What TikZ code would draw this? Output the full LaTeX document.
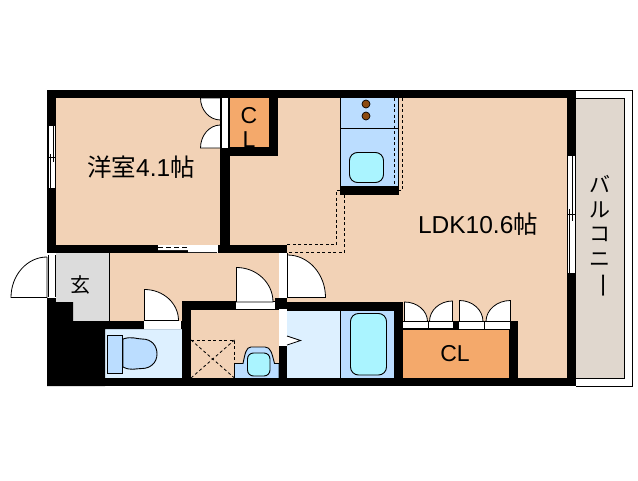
\documentclass[tikz,border=0pt]{standalone}
\usepackage{fontspec}
\usepackage{graphicx}
\setmainfont{Liberation Sans}
\newfontfamily\jpfont{Noto Sans CJK JP}
\definecolor{room}{HTML}{F2D2B6}
\definecolor{closet}{HTML}{F4A96B}
\definecolor{wetfloor}{HTML}{DDF0FF}
\definecolor{fixture}{HTML}{BBDDFF}
\definecolor{basin}{HTML}{AAF4FF}
\definecolor{entry}{HTML}{DCDCDC}
\definecolor{balcony}{HTML}{E0D7CE}
\definecolor{burner}{HTML}{8B4A10}
\tikzset{
	wall/.style={fill=black},
	leaf/.style={draw=black, fill=white, line width=.8pt},
	pane/.style={draw=black, line width=.9pt},
	thinline/.style={draw=black, line width=.9pt},
	hidden/.style={draw=black, line width=.8pt, dash pattern=on 3pt off 2.5pt},
	label/.style={font=\fontsize{23}{23}\selectfont, inner sep=0pt}
}
\begin{document}
\begin{tikzpicture}[x=1pt, y=-1pt]
	\useasboundingbox (0,0) rectangle (638,480);
	\fill[white] (0,0) rectangle (638,480);
	\fill[room] (56,98) rectangle (567,378);
	% balcony
	\draw[line width=.9pt] (576,90) -- (632,90) -- (632,386) -- (576,386);
	\draw[fill=balcony, line width=.9pt] (576,98) -- (624.5,98) -- (624.5,378) -- (576,378);
	% entry and closets
	\fill[entry] (56,253) -- (109,253) -- (109,321) -- (73,321) -- (73,302) -- (56,302) -- cycle;
	\draw[thinline] (109,253) -- (109,321);
	\fill[closet] (230,98) rectangle (269,147);
	\fill[closet] (403,330) rectangle (509,378);
	% toilet
	\fill[wetfloor] (105,329) rectangle (182,378);
	\draw[thinline, fill=fixture] (123,339) .. controls (132,336) and (136,339) .. (142,339) .. controls (152,339) and (157,346) .. (157,354) .. controls (157,363) and (150,368.5) .. (142,368.5) .. controls (135,368.5) and (131,371) .. (123,367) -- cycle;
	\draw[thinline, fill=fixture] (107.5,335) rectangle (122.5,373);
	% bath
	\fill[wetfloor] (287,310) rectangle (340,378);
	\fill[fixture] (340,310) rectangle (394,378);
	\draw[thinline] (340.5,310) -- (340.5,378);
	\draw[thinline, fill=basin, rounded corners=8pt] (350.5,313.5) rectangle (386.5,375);
	% kitchen
	\fill[fixture] (340,98) rectangle (399,186);
	\draw[thinline] (340.5,98) -- (340.5,186);
	\draw[thinline] (398.5,98) -- (398.5,186);
	\draw[thinline] (340,128.5) -- (399,128.5);
	\draw[fill=burner, line width=.7pt] (366,104) circle (4);
	\draw[fill=burner, line width=.7pt] (366,116) circle (4);
	\draw[thinline, fill=basin, rounded corners=8pt] (349.5,152.5) rectangle (383.5,182.5);
	\fill[wall] (340,186) rectangle (399,194.5);
	\draw[hidden] (394.5,98) -- (394.5,186);
	\draw[hidden] (402.5,98) -- (402.5,190) -- (399,190);
	\draw[hidden] (340,190) -- (336.5,190) -- (336.5,244.5) -- (287,244.5);
	\draw[hidden] (344.5,194.5) -- (344.5,252) -- (287,252);
	% wash room
	\draw[hidden] (191,340) -- (234.5,340) -- (234.5,378);
	\draw[hidden] (191,378) -- (234.5,340);
	\draw[hidden] (191,340) -- (234.5,378);
	\draw[thinline, fill=fixture] (234.5,378) -- (234.5,363.5) -- (243,363.5) .. controls (245,354) and (246,347) .. (251,347) -- (265,347) .. controls (271,347) and (272,354) .. (274.5,363.5) -- (279,363.5) -- (279,378);
	\draw[thinline, fill=basin, rounded corners=6pt] (247.5,353) rectangle (270,376);
	% walls
	\fill[wall] (47,90) rectangle (576,98);
	\fill[wall] (47,378) rectangle (576,386);
	\fill[wall] (47,90) rectangle (56,253);
	\fill[wall] (567,90) rectangle (576,386);
	\fill[wall] (220,90) rectangle (230,253);
	\fill[wall] (228,147) rectangle (278,156);
	\fill[wall] (269,90) rectangle (278,156);
	\fill[wall] (47,244.5) rectangle (287,253);
	\fill[wall] (47,298) rectangle (56,386);
	\fill[wall] (47,302) -- (73,302) -- (73,321) -- (182,321) -- (182,329) -- (105,329) -- (105,386) -- (47,386) -- cycle;
	\fill[wall] (182,301) rectangle (191,386);
	\fill[wall] (182,301) rectangle (287,310);
	\fill[wall] (279,298) rectangle (287,386);
	\fill[wall] (275,298) rectangle (287,310);
	\fill[wall] (287,302) rectangle (403,310.5);
	\fill[wall] (394,302) rectangle (403,378);
	\fill[wall] (403,321) rectangle (518,330);
	\fill[wall] (509,321) rectangle (518,378);
	% bedroom closet doors
	\fill[white] (221,98) rectangle (228,148);
	\draw[pane] (221,98) -- (221,148);
	\draw[pane] (228,98) -- (228,148);
	\draw[leaf] (220.5,98) -- (200.5,98) arc[start angle=180, end angle=90, x radius=20, y radius=22] -- cycle;
	\draw[leaf] (220.5,148) -- (200.5,148) arc[start angle=180, end angle=270, x radius=20, y radius=23] -- cycle;
	% windows
	\fill[white] (48,125.5) rectangle (55.5,187.5);
	\draw[pane] (48,125.5) -- (48,187.5);
	\draw[pane] (55.3,125.5) -- (55.3,187.5);
	\draw[pane] (50,154) -- (50,187.5);
	\draw[pane] (53,125.5) -- (53,162);
	\draw[pane] (48,157.5) -- (55.3,157.5);
	\fill[white] (567.5,155.5) rectangle (575.5,273);
	\draw[pane] (567.5,155.5) -- (567.5,273);
	\draw[pane] (575.3,155.5) -- (575.3,273);
	\draw[pane] (569.7,209) -- (569.7,273);
	\draw[pane] (572.7,155.5) -- (572.7,220.5);
	\draw[pane] (567.5,214) -- (575.3,214);
	% sliding door
	\fill[white] (158,245) -- (217,245) -- (217,252) -- (188,252) -- (188,250) -- (158,250) -- cycle;
	\draw[black, line width=1pt, dash pattern=on 5pt off 3pt] (158,247.5) -- (188,247.5);
	\draw[white, line width=1pt] (217,244.5) -- (217,253);
	% entrance door
	\fill[white] (48,255) rectangle (55,297);
	\draw[pane] (48,255) -- (48,297);
	\draw[pane] (55,255) -- (55,297);
	\draw[leaf] (47,257) -- (47,297.5) -- (11,297.5) arc[start angle=180, end angle=270, x radius=36, y radius=40.5];
	% toilet door
	\fill[white] (144,321) rectangle (181,328.5);
	\draw[leaf] (144.5,289.5) -- (144.5,320.5) -- (178.5,320.5) arc[start angle=0, end angle=-90, x radius=34, y radius=31] -- cycle;
	% wash room door
	\fill[white] (236,302) rectangle (275,309);
	\draw[leaf] (236.5,267.5) -- (236.5,302) -- (273,302) arc[start angle=0, end angle=-90, x radius=36.5, y radius=34.5] -- cycle;
	% living room door
	\fill[white] (279,253) rectangle (287,298);
	\draw[pane] (287,253) -- (287,298);
	\draw[leaf] (287.5,255) -- (287.5,297.5) -- (325.5,297.5) arc[start angle=0, end angle=-90, x radius=38, y radius=42.5] -- cycle;
	% bath door
	\fill[white] (279,308.5) rectangle (287,346);
	\draw[leaf] (287,336) -- (300.5,340.5) -- (287,345);
	% closet doors
	\fill[white] (403,321.5) rectangle (453,328);
	\fill[white] (459,321.5) rectangle (510,329);
	\draw[pane] (404,321.5) -- (453,321.5);
	\draw[pane] (459,321.5) -- (510,321.5);
	\draw[pane] (428.5,321.5) -- (428.5,328);
	\draw[pane] (484.5,321.5) -- (484.5,329);
	\draw[leaf] (404.5,302) -- (404.5,321.5) -- (427.5,321.5) arc[start angle=0, end angle=-90, x radius=23, y radius=19.5] -- cycle;
	\draw[leaf] (452.5,301) -- (452.5,321.5) -- (429.5,321.5) arc[start angle=180, end angle=270, x radius=23, y radius=20.5] -- cycle;
	\draw[leaf] (459.5,300.5) -- (459.5,321.5) -- (483,321.5) arc[start angle=0, end angle=-90, x radius=23.5, y radius=21] -- cycle;
	\draw[leaf] (510.5,300.5) -- (510.5,321.5) -- (486,321.5) arc[start angle=180, end angle=270, x radius=24.5, y radius=21] -- cycle;
	% labels
	\node[label, font=\jpfont\fontsize{24.5}{24.5}\selectfont] (bedroom) at (141,167) {洋室\fontspec{Liberation Sans}4.1\jpfont 帖};
	\node[label, font=\jpfont\fontsize{24.5}{24.5}\selectfont] (living) at (478,224) {\fontspec{Liberation Sans}LDK10.6\jpfont 帖};
	\node[label] (clup) at (249,116) {C};
	\node[label] (cllow) at (249,140) {L};
	\node[label] (cloth) at (455,354) {CL};
	\node[label, font=\jpfont\fontsize{20}{20}\selectfont] (genkan) at (80,285) {玄};
	\node[label, font=\jpfont\fontsize{21}{24.5}\selectfont, align=center] (veranda) at (600,233) {バ\\ル\\コ\\ニ\\\smash{\rotatebox[origin=c]{-90}{\scalebox{1.25}[1]{ー}}}};
\end{tikzpicture}
\end{document}
